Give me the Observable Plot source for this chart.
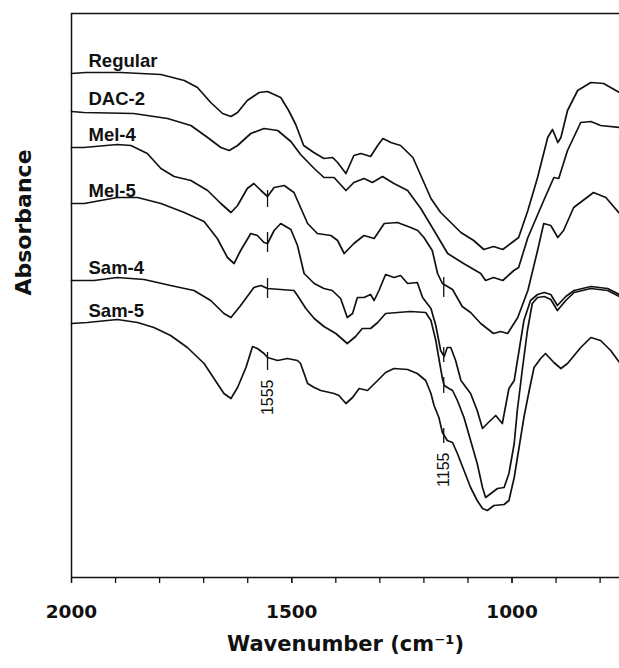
<!DOCTYPE html>
<html><head><meta charset="utf-8">
<script src="https://cdn.jsdelivr.net/npm/d3@7"></script>
<script src="https://cdn.jsdelivr.net/npm/@observablehq/plot@0.6"></script>
<style>html,body{margin:0;padding:0;background:#fff}</style>
</head><body><div id="chart"></div>
<script>
// FTIR spectra (absorbance, arbitrary units, curves offset)
const seriesNames = ["Regular", "DAC-2", "Mel-4", "Mel-5", "Sam-4", "Sam-5"];

const regularWn = [2000,1968,1888,1797,1744,1714,1684,1657,1638,1623,1601,1574,1555,1525,1507,1491,1473,1450,1427,1407,1396,1377,1359,1343,1321,1305,1293,1275,1253,1225,1207,1184,1162,1139,1116,1087,1064,1042,1021,1003,985,964,942,919,908,896,889,874,851,821,792,756];
const regularAbs = [5.04,5.05,5.05,5.03,4.97,4.90,4.75,4.64,4.61,4.65,4.77,4.85,4.86,4.80,4.67,4.53,4.32,4.25,4.19,4.20,4.15,4.04,4.22,4.24,4.21,4.32,4.39,4.35,4.32,4.20,4.02,3.79,3.65,3.55,3.45,3.37,3.28,3.31,3.28,3.34,3.40,3.67,4.00,4.40,4.48,4.35,4.40,4.67,4.87,4.95,4.94,4.85];

const dac2Wn = [2000,1972,1859,1782,1729,1691,1661,1642,1623,1593,1563,1532,1502,1480,1449,1427,1404,1377,1359,1336,1317,1294,1268,1237,1207,1177,1146,1110,1071,1060,1042,1021,996,985,964,928,905,894,874,844,821,799,756];
const dac2Abs = [4.66,4.65,4.64,4.59,4.52,4.40,4.30,4.27,4.32,4.44,4.49,4.47,4.36,4.23,4.09,4.00,4.00,3.87,3.95,3.99,3.95,4.01,3.94,3.87,3.69,3.47,3.24,3.14,3.04,2.97,3.00,2.97,3.07,3.10,3.40,3.77,4.00,3.99,4.27,4.55,4.56,4.52,4.50];

const mel4Wn = [2000,1972,1896,1865,1828,1797,1767,1729,1691,1661,1638,1623,1601,1586,1570,1555,1540,1517,1495,1480,1464,1442,1411,1396,1381,1359,1336,1313,1290,1260,1230,1214,1200,1181,1169,1158,1135,1113,1094,1071,1042,1026,1010,987,964,942,928,912,896,883,860,815,787,756];
const mel4Abs = [4.30,4.30,4.33,4.32,4.24,4.09,4.01,3.97,3.87,3.74,3.65,3.72,3.89,3.94,3.87,3.81,3.90,3.92,3.85,3.70,3.54,3.44,3.42,3.37,3.24,3.34,3.42,3.39,3.54,3.55,3.50,3.47,3.40,3.27,3.04,2.94,2.88,2.71,2.65,2.54,2.44,2.46,2.44,2.60,2.87,3.27,3.54,3.52,3.40,3.47,3.70,3.85,3.80,3.64];

const mel5Wn = [2000,1971,1896,1850,1797,1744,1699,1669,1646,1631,1616,1593,1578,1563,1555,1540,1525,1502,1487,1472,1449,1427,1408,1389,1374,1362,1351,1336,1321,1313,1302,1287,1268,1253,1237,1215,1203,1184,1173,1162,1154,1147,1139,1128,1116,1094,1079,1067,1056,1037,1022,1007,995,984,973,958,942,927,912,897,878,859,821,783,756];
const mel5Abs = [3.74,3.74,3.80,3.80,3.74,3.65,3.56,3.39,3.20,3.14,3.27,3.44,3.42,3.35,3.34,3.47,3.54,3.48,3.32,3.04,2.94,2.89,2.87,2.79,2.60,2.64,2.80,2.80,2.83,2.77,2.87,3.03,3.00,3.02,2.94,2.95,2.80,2.69,2.52,2.27,2.21,2.30,2.30,2.17,1.97,1.84,1.67,1.49,1.54,1.62,1.54,1.89,1.97,2.27,2.57,2.77,2.83,2.85,2.83,2.72,2.81,2.87,2.91,2.89,2.83];

const sam4Wn = [2000,1949,1896,1835,1775,1722,1684,1654,1638,1616,1586,1570,1555,1525,1495,1487,1468,1449,1427,1400,1374,1355,1340,1321,1305,1287,1260,1230,1196,1184,1173,1166,1158,1154,1143,1135,1124,1109,1094,1079,1067,1060,1048,1033,1018,1007,995,988,976,965,954,942,927,912,897,878,859,821,783,756];
const sam4Abs = [2.97,2.97,3.00,2.98,2.92,2.87,2.77,2.64,2.60,2.72,2.90,2.92,2.89,2.88,2.87,2.82,2.69,2.59,2.51,2.44,2.34,2.41,2.49,2.49,2.55,2.64,2.65,2.66,2.65,2.57,2.37,2.19,1.99,1.92,1.89,1.87,1.77,1.60,1.37,1.14,0.90,0.80,0.84,0.89,0.90,1.04,1.34,1.67,2.10,2.47,2.74,2.80,2.81,2.78,2.67,2.77,2.85,2.89,2.87,2.81];

const sam5Wn = [2000,1964,1896,1850,1813,1775,1737,1699,1669,1654,1638,1623,1604,1589,1578,1563,1555,1532,1510,1487,1480,1464,1449,1434,1404,1393,1377,1362,1347,1328,1305,1287,1268,1237,1215,1196,1184,1177,1166,1158,1147,1135,1124,1109,1094,1079,1067,1056,1041,1018,1007,995,984,973,961,950,935,924,905,889,874,844,821,799,776,756];
const sam5Abs = [2.54,2.55,2.58,2.55,2.50,2.42,2.30,2.14,1.94,1.84,1.79,1.90,2.10,2.31,2.29,2.24,2.20,2.17,2.19,2.17,2.14,1.94,1.90,1.87,1.84,1.82,1.74,1.80,1.89,1.87,1.97,2.05,2.09,2.08,2.04,1.97,1.84,1.72,1.60,1.45,1.37,1.35,1.24,1.07,0.90,0.77,0.69,0.67,0.72,0.73,0.77,1.00,1.30,1.60,1.87,2.10,2.19,2.24,2.15,2.09,2.14,2.30,2.40,2.37,2.27,2.15];

// marker bands (cm-1) and the short vertical ticks drawn on the modified samples
const markerWn = [1555, 1155];
const markedSeries = ["Mel-4", "Mel-5", "Sam-4", "Sam-5"];
const tick1555Top = [3.87, 3.45, 2.99, 2.25];
const tick1555Bottom = [3.70, 3.25, 2.79, 2.07];
const tick1155Top = [3.00, 2.30, 2.00, 1.49];
const tick1155Bottom = [2.80, 2.15, 1.84, 1.34];

const xMajorTicks = [2000, 1500, 1000];
const xMinorTicks = [2000, 1900, 1800, 1700, 1600, 1500, 1400, 1300, 1200, 1100, 1000, 900, 800];

// build tables
const allWn = [regularWn, dac2Wn, mel4Wn, mel5Wn, sam4Wn, sam5Wn];
const allAbs = [regularAbs, dac2Abs, mel4Abs, mel5Abs, sam4Abs, sam5Abs];
const rows = [];
seriesNames.forEach((s, i) => allWn[i].forEach((w, j) => rows.push({series: s, wn: w, abs: allAbs[i][j]})));
const labelRows = seriesNames.map((s, i) => ({series: s, wn: allWn[i][0], abs: allAbs[i][0]}));
const tickRows = [];
markedSeries.forEach((s, i) => {
  tickRows.push({series: s, wn: markerWn[0], y1: tick1555Bottom[i], y2: tick1555Top[i]});
  tickRows.push({series: s, wn: markerWn[1], y1: tick1155Bottom[i], y2: tick1155Top[i]});
});
const markerLabels = [
  {wn: markerWn[0], y: d3.min(tick1555Bottom), text: String(markerWn[0])},
  {wn: markerWn[1], y: d3.min(tick1155Bottom), text: String(markerWn[1])}
];

const ink = "#111";
const chart = Plot.plot({
  width: 619,
  height: 668,
  marginLeft: 71,
  marginRight: 0,
  marginTop: 13,
  marginBottom: 91,
  style: {background: "#fff", color: ink, overflow: "visible"},
  x: {domain: [2000, 756]},
  y: {domain: [0, 5.64]},
  marks: [
    Plot.axisX({ticks: xMinorTicks, tickSize: 6, tickFormat: () => "", strokeWidth: 1.3, label: null}),
    Plot.axisX({ticks: xMajorTicks, tickSize: 6, tickPadding: 21, tickFormat: d => String(d),
      fontSize: 18.5, fontWeight: "bold", fontFamily: "DejaVu Sans", strokeWidth: 1.3, label: null}),
    Plot.axisY({ticks: [], label: null}),
    Plot.ruleY([0], {stroke: ink, strokeWidth: 1.5}),
    Plot.ruleY([5.64], {stroke: ink, strokeWidth: 1.5}),
    Plot.ruleX([2000], {stroke: ink, strokeWidth: 1.5}),
    Plot.line(rows, {x: "wn", y: "abs", z: "series", stroke: ink, strokeWidth: 1.7, strokeLinejoin: "round"}),
    Plot.ruleX(tickRows, {x: "wn", y1: "y1", y2: "y2", stroke: ink, strokeWidth: 1.3}),
    Plot.text(labelRows, {x: "wn", y: "abs", text: "series", textAnchor: "start", lineAnchor: "bottom",
      dx: 17, dy: -7, fontSize: 18.5, fontWeight: "bold", fontFamily: "Liberation Sans", fill: ink}),
    Plot.text(markerLabels, {x: "wn", y: "y", text: "text", rotate: -90, textAnchor: "end", lineAnchor: "middle",
      dy: 9, fontSize: 16, fontFamily: "Liberation Sans", fill: ink}),
    Plot.text(["Absorbance"], {frameAnchor: "left", dx: -48, rotate: -90, fontSize: 22, fontWeight: "bold",
      fontFamily: "DejaVu Sans", fill: ink}),
    Plot.text(["Wavenumber (cm\u207B\u00B9)"], {frameAnchor: "bottom", dy: 73, lineAnchor: "bottom",
      fontSize: 21, fontWeight: "bold", fontFamily: "DejaVu Sans", fill: ink})
  ]
});
document.getElementById("chart").append(chart);
</script>
</body></html>
